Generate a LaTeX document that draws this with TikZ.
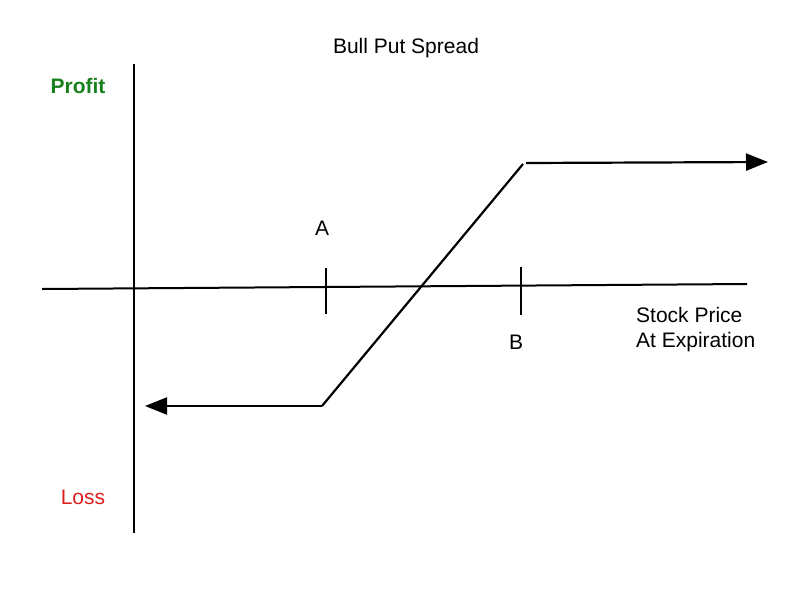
\documentclass[tikz,border=0pt]{standalone}
\usepackage{fontspec}
\setmainfont{Liberation Sans}
\usepackage{xcolor}
\usetikzlibrary{positioning,calc,arrows.meta}
\definecolor{profitgreen}{RGB}{24,128,28}
\definecolor{lossred}{RGB}{220,30,30}

\begin{document}
\begin{tikzpicture}[x=1pt, y=-1pt, font=\fontsize{21}{25}\selectfont,
    axis/.style={line width=2pt},
    payoff/.style={line width=2.2pt},
    tip/.style={-{Triangle[length=22pt,width=17pt]}}]
    \useasboundingbox (0,0) rectangle (800,600);

    % Axes
    \coordinate (ytop) at (134,64); \coordinate (ybot) at (134,533);
    \coordinate (xleft) at (42,289); \coordinate (xright) at (747,284);
    \draw [axis] (ytop) -- (ybot);
    \draw [axis] (xleft) -- (xright);

    % Strike ticks
    \coordinate (Atop) at (326,268); \coordinate (Abot) at (326,314);
    \coordinate (Btop) at (521,267); \coordinate (Bbot) at (521,315);
    \draw [axis] (Atop) -- (Abot); \node (A) at (322,228) {A};
    \draw [axis] (Btop) -- (Bbot); \node (B) at (516,342) {B};

    % Payoff
    \coordinate (low) at (322,406); \coordinate (lowend) at (145,406);
    \coordinate (high) at (523,164); \coordinate (highstart) at (526,163);
    \coordinate (highend) at (768,162);
    \draw [payoff, tip] (low) -- (lowend);
    \draw [payoff] (low) -- (high);
    \draw [payoff, tip] (highstart) -- (highend);

    % Labels
    \node (title) at (406,48) {Bull Put Spread};
    \node (profit) at (78,86) [text=profitgreen] {\bfseries Profit};
    \node (loss) at (83,497) [text=lossred] {Loss};
    \node (xlabel) at (636,330) [right, align=left, inner sep=0pt] {Stock Price\\At Expiration};
\end{tikzpicture}
\end{document}
